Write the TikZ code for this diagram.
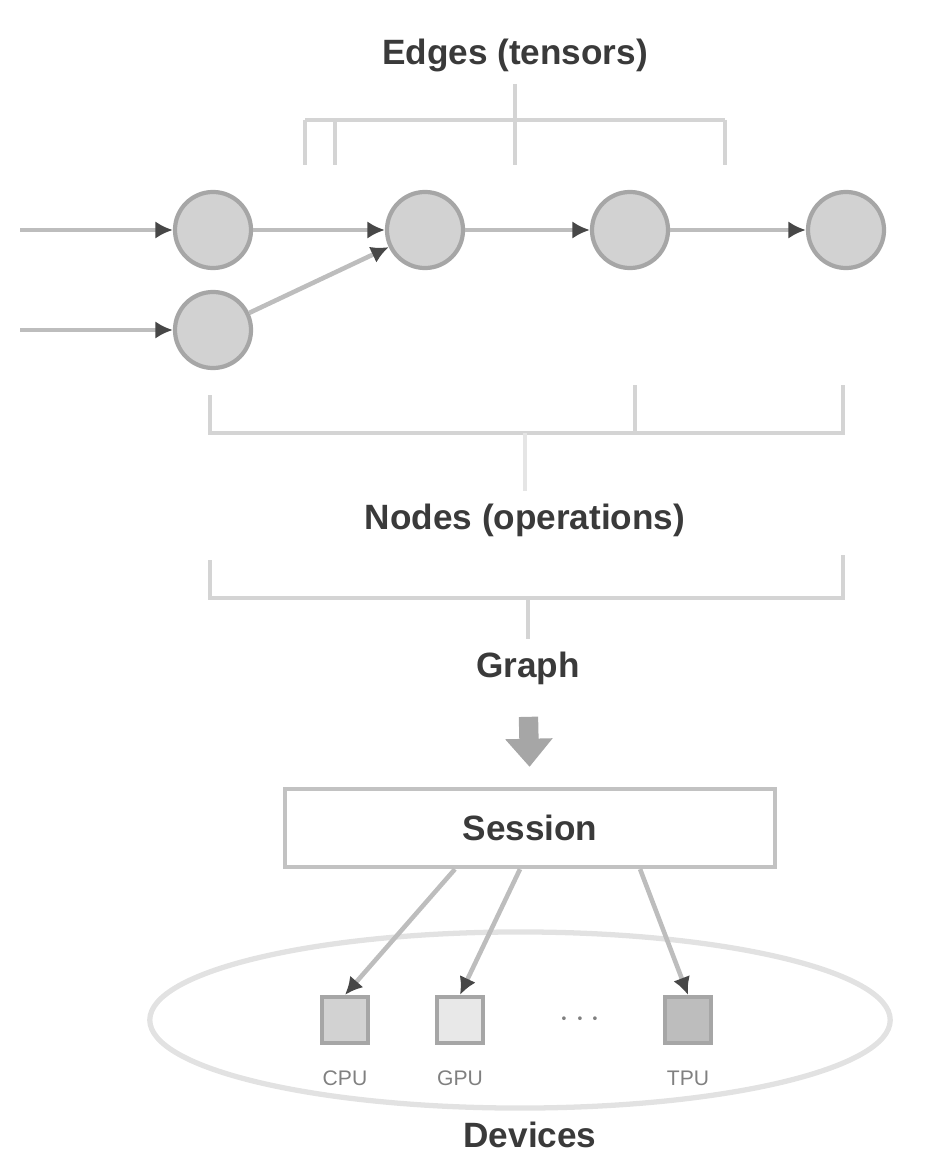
\documentclass[tikz,border=0pt]{standalone}
\usepackage{fontspec}
\setmainfont{Liberation Sans}
\usetikzlibrary{arrows.meta}
\definecolor{opfill}{HTML}{D2D2D2}
\definecolor{opline}{HTML}{A6A6A6}
\definecolor{edgegray}{HTML}{BDBDBD}
\definecolor{tipgray}{HTML}{474747}
\definecolor{brgray}{HTML}{D4D4D4}
\definecolor{boxgray}{HTML}{C2C2C2}
\definecolor{ellgray}{HTML}{E2E2E2}
\definecolor{txtgray}{HTML}{3A3A3A}
\begin{document}
\begin{tikzpicture}[x=0.01cm,y=-0.01cm,
  op/.style={circle,draw=opline,fill=opfill,line width=1.2pt,minimum size=0.76cm,inner sep=0pt},
  dev/.style={rectangle,draw=opline,fill=opfill,line width=1.2pt,minimum size=0.46cm,inner sep=0pt},
  flow/.style={draw=edgegray,line width=1.3pt,-{Latex[length=5pt,width=5pt,color=tipgray]}},
  brace/.style={draw=brgray,line width=1.2pt},
  lbl/.style={font=\fontsize{10}{12}\selectfont\bfseries,text=txtgray},
  devlbl/.style={font=\fontsize{6}{7}\selectfont,text=gray}]

\useasboundingbox (0,0) rectangle (941,1173);

% operations
\coordinate (in1) at (20,230);
\coordinate (in2) at (20,330);
\node[op] (1) at (213,230) {};
\node[op] (2) at (213,330) {};
\node[op] (3) at (425,230) {};
\node[op] (4) at (630,230) {};
\node[op] (5) at (846,230) {};

\draw[flow] (in1) -- (1);
\draw[flow] (in2) -- (2);
\draw[flow] (1) -- (3);
\draw[flow] (2) -- (3);
\draw[flow] (3) -- (4);
\draw[flow] (4) -- (5);

% edges bracket
\node[lbl] (edges) at (515,55) {Edges (tensors)};
\coordinate (etick) at (515,165);
\draw[brace] (305,120) -- (725,120);
\draw[brace] (305,120) -- (305,165);
\draw[brace] (335,120) -- (335,165);
\draw[brace] (725,120) -- (725,165);
\draw[brace] (edges.south) -- (etick);

% nodes bracket
\draw[brace] (210,395) -- (210,433) -- (843,433) -- (843,385);
\draw[brace] (635,385) -- (635,433);
\node[lbl] (nodes) at (525,520) {Nodes (operations)};
\coordinate (ntick) at (525,433);
\draw[brace,draw=brgray!60] (ntick) -- (nodes.north);

% graph bracket
\draw[brace] (210,560) -- (210,598) -- (843,598) -- (843,555);
\coordinate (gtick) at (528,598);
\node[lbl] (graph) at (528,668) {Graph};
\draw[brace] (gtick) -- (graph.north);

% session
\node[draw=boxgray,line width=1.2pt,minimum width=4.9cm,minimum height=0.78cm,lbl] (session) at (530,828) {Session};
\draw[draw=opline,line width=5.5pt,-{Triangle[length=8pt,width=13pt]},shorten <=0.2cm,shorten >=0.2cm] (graph.south) -- (session.north);

% devices
\draw[draw=ellgray,line width=1.5pt] (520,1020) ellipse [x radius=3.7cm,y radius=0.88cm];
\node[dev] (d1) at (345,1020) {};
\node[dev,fill=opfill!50] (d2) at (460,1020) {};
\node[dev,fill=opfill!90!black] (d3) at (688,1020) {};
\node[text=gray] at (580,1020) {$\cdots$};
\node[devlbl] (cpu) at (345,1078) {CPU};
\node[devlbl] (gpu) at (460,1078) {GPU};
\node[devlbl] (tpu) at (688,1078) {TPU};
\node[lbl] (devices) at (530,1135) {Devices};

\draw[flow] ([xshift=-0.75cm]session.south) -- (d1.north);
\draw[flow] ([xshift=-0.1cm]session.south) -- (d2.north);
\draw[flow] ([xshift=1.1cm]session.south) -- (d3.north);

\end{tikzpicture}
\end{document}
